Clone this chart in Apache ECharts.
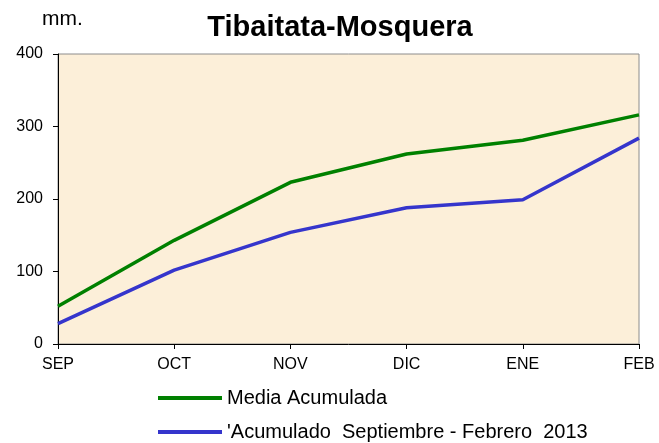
<!DOCTYPE html>
<html>
<head>
<meta charset="utf-8">
<script src="https://cdn.jsdelivr.net/npm/echarts@6/dist/echarts.min.js"></script>
<style>
  html, body { margin: 0; padding: 0; background: #fff; }
  #chart { width: 659px; height: 443px; }
</style>
</head>
<body>
<div id="chart"></div>
<script>
// datos
const months = ['SEP', 'OCT', 'NOV', 'DIC', 'ENE', 'FEB']
const mediaAcumulada = [52, 143, 223, 262, 281, 316]
const acumulado2013 = [28, 102, 154, 188, 199, 284]
const yTicks = [0, 100, 200, 300, 400]
const serieNames = ['Media Acumulada', "'Acumulado  Septiembre - Febrero  2013"]

const chart = echarts.init(document.getElementById('chart'))

// leyenda: una por serie, apiladas
const legendBase = {
  left: 153,
  itemWidth: 64,
  itemHeight: 4,
  itemGap: 5,
  icon: 'rect',
  textStyle: { fontSize: 20, color: '#000' },
}

const option = {
  animation: false,
  textStyle: { fontFamily: 'Liberation Sans, Arial, sans-serif' },
  title: [
    {
      text: 'Tibaitata-Mosquera',
      left: 335,
      top: 8,
      textAlign: 'center',
      textStyle: { fontSize: 29, fontWeight: 'bold', color: '#000' },
    },
    {
      text: 'mm.',
      left: 37,
      top: 4,
      textStyle: { fontSize: 21, fontWeight: 'normal', color: '#000' },
    },
  ],
  legend: [
    { ...legendBase, top: 383, data: [serieNames[0]] },
    { ...legendBase, top: 417, data: [serieNames[1]] },
  ],
  grid: {
    left: 58,
    right: 20,
    top: 54,
    bottom: 99,
    show: true,
    backgroundColor: '#fcefd9',
    borderColor: '#8c8c8c',
    borderWidth: 1,
  },
  xAxis: {
    type: 'category',
    data: months,
    boundaryGap: false,
    axisLine: { lineStyle: { color: '#000', width: 1 } },
    axisTick: { show: true, length: 5, lineStyle: { color: '#000' } },
    axisLabel: { color: '#000', fontSize: 16, margin: 13 },
    splitLine: { show: false },
  },
  yAxis: {
    type: 'value',
    min: yTicks[0],
    max: yTicks[yTicks.length - 1],
    interval: 100,
    axisLine: { show: true, lineStyle: { color: '#000', width: 1 } },
    axisTick: { show: true, length: 5, lineStyle: { color: '#000' } },
    axisLabel: { color: '#000', fontSize: 16, margin: 15 },
    splitLine: { show: false },
  },
  series: [
    {
      name: serieNames[0],
      type: 'line',
      data: mediaAcumulada,
      symbol: 'none',
      color: '#008000',
      lineStyle: { width: 3.5, color: '#008000' },
    },
    {
      name: serieNames[1],
      type: 'line',
      data: acumulado2013,
      symbol: 'none',
      color: '#3535cc',
      lineStyle: { width: 3.5, color: '#3535cc' },
    },
  ],
}

chart.setOption(option)
</script>
</body>
</html>
